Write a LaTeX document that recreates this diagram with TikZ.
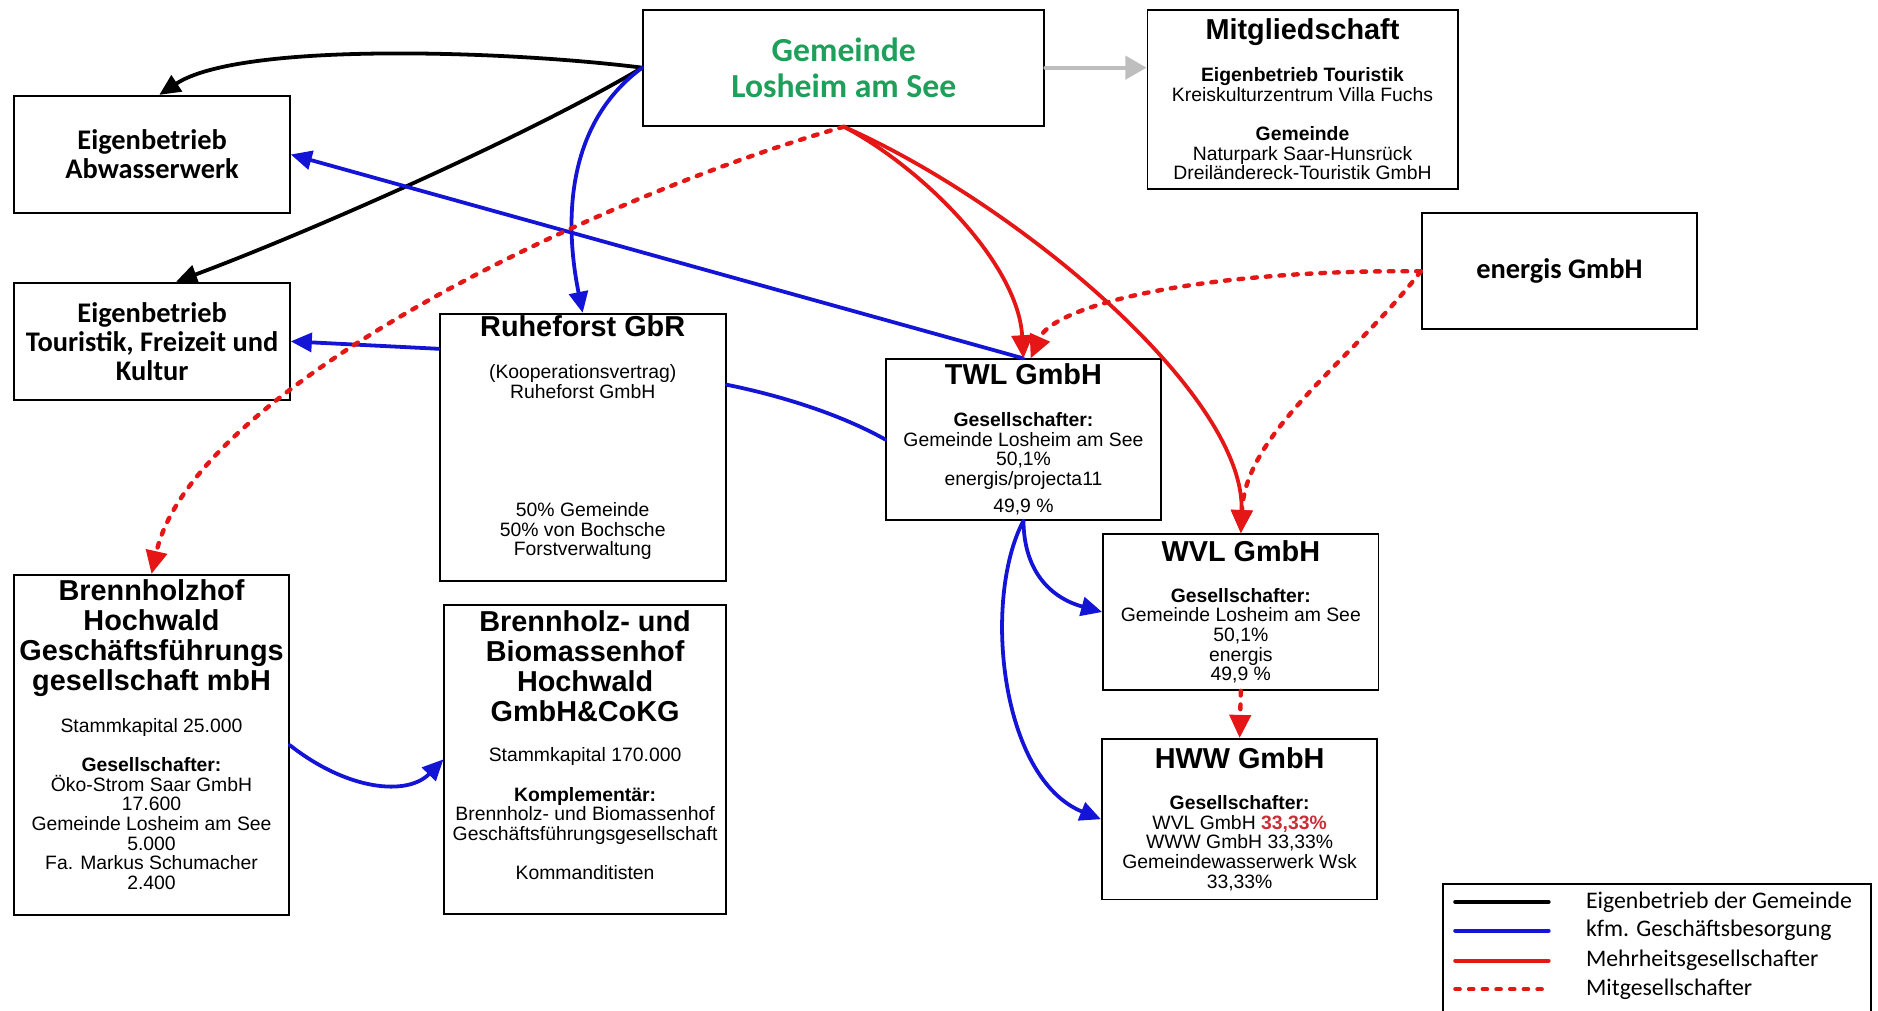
\documentclass[tikz,border=0pt]{standalone}
\usepackage{fontspec}
\setmainfont{Liberation Sans}
\newfontfamily\calibri{Carlito}
\usepackage{tikz}
\usepackage{xcolor}
\usetikzlibrary{arrows.meta}

\definecolor{gemgreen}{RGB}{30,160,90}
\definecolor{kfmblue}{RGB}{20,20,215}
\definecolor{mehrred}{RGB}{228,22,22}
\definecolor{hwwred}{RGB}{205,45,55}
\definecolor{mitgray}{RGB}{190,190,190}

\newcommand{\bodyfont}{\fontsize{9.2}{9.35}\selectfont\lineskiplimit=-20pt}
\newcommand{\titlefont}{\fontsize{13.7}{14.2}\selectfont\bfseries}
\newcommand{\califont}{\calibri\fontsize{13.5}{13.8}\selectfont\bfseries}
\newcommand{\gemfont}{\calibri\fontsize{16}{17}\selectfont\bfseries}
\newcommand{\legfont}{\calibri\fontsize{11.3}{13}\selectfont}

\tikzset{
    eigenline/.style={draw=black},
    kfmline/.style={draw=kfmblue},
    mehrline/.style={draw=mehrred, >={Triangle[length=11pt,width=10pt]}},
    mitline/.style={draw=mehrred, dash pattern=on 2.2pt off 4.3pt, line width=2.1pt,
        >={Triangle[length=11pt,width=10pt]}},
    grayline/.style={draw=mitgray, >={Triangle[length=10pt,width=11pt]}}
}

\begin{document}
\begin{tikzpicture}[x=0.02cm, y=-0.02cm]
    \useasboundingbox (0,0) rectangle (1568,844);

    \begin{scope}[every node/.style = {draw, line width=0.9pt, fill=white, align=center,
            inner xsep=1pt, inner ysep=2pt, font=\bodyfont}]
        \node[minimum width=6.7cm, minimum height=1.94cm, font=\gemfont, text=gemgreen] (Gem) at (704.5,56.5)
            {Gemeinde\\Losheim am See};
        \node[minimum width=5.18cm, minimum height=3cm] (Mit) at (1087.5,83)
            {{\titlefont Mitgliedschaft}\\[10.5pt]\textbf{Eigenbetrieb Touristik}\\Kreiskulturzentrum Villa Fuchs\\[9.3pt]
             \textbf{Gemeinde}\\Naturpark Saar-Hunsrück\\Dreiländereck-Touristik GmbH};
        \node[minimum width=4.6cm, minimum height=1.96cm, font=\califont] (Abw) at (127,129)
            {Eigenbetrieb\\Abwasserwerk};
        \node[minimum width=4.6cm, minimum height=1.96cm, font=\califont] (Tou) at (127,285)
            {Eigenbetrieb\\Touristik, Freizeit und\\Kultur};
        \node[minimum width=4.6cm, minimum height=1.94cm, font=\califont] (Ene) at (1302,226.5)
            {energis GmbH};
        \node[minimum width=4.78cm, minimum height=4.46cm, inner ysep=-3pt] (Ruh) at (486.5,373.5)
            {{\titlefont Ruheforst GbR}\\[10.5pt](Kooperationsvertrag)\\Ruheforst GmbH\\[46.8pt]
             50\% Gemeinde\\50\% von Bochsche\\Forstverwaltung\\[1.6pt]};
        \node[minimum width=4.58cm, minimum height=2.68cm] (TWL) at (854.5,367)
            {{\titlefont TWL GmbH}\\[10.5pt]\textbf{Gesellschafter:}\\Gemeinde Losheim am See\\50,1\%\\
             energis/projecta11\\[3.7pt]49,9 \%};
        \node[minimum width=4.6cm, minimum height=2.6cm] (WVL) at (1036,511)
            {{\titlefont WVL GmbH}\\[10pt]\textbf{Gesellschafter:}\\Gemeinde Losheim am See\\50,1\%\\energis\\49,9 \%};
        \node[minimum width=4.6cm, minimum height=2.68cm] (HWW) at (1035,684)
            {{\titlefont HWW GmbH}\\[10pt]\textbf{Gesellschafter:}\\WVL GmbH \textcolor{hwwred}{\textbf{33,33\%}}\\
             WWW GmbH 33,33\%\\Gemeindewasserwerk Wsk\\33,33\%};
        \node[minimum width=4.58cm, minimum height=5.68cm, inner ysep=-2pt] (BHG) at (126.5,622)
            {{\titlefont Brennholzhof}\\[4.85pt]{\titlefont Hochwald}\\[4.85pt]{\titlefont Geschäftsführungs}\\[4.85pt]
             {\titlefont gesellschaft mbH}\\[10.5pt]Stammkapital 25.000\\[9.35pt]\textbf{Gesellschafter:}\\
             Öko-Strom Saar GmbH\\17.600\\Gemeinde Losheim am See\\5.000\\Fa. Markus Schumacher\\2.400\\[0.5pt]};
        \node[minimum width=4.7cm, minimum height=5.16cm] (BBH) at (488.5,634)
            {{\titlefont Brennholz- und}\\[4.85pt]{\titlefont Biomassenhof}\\[4.85pt]{\titlefont Hochwald}\\[4.85pt]
             {\titlefont GmbH\&CoKG}\\[10pt]Stammkapital 170.000\\[9.35pt]\textbf{Komplementär:}\\
             Brennholz- und Biomassenhof\\Geschäftsführungsgesellschaft\\[9.35pt]Kommanditisten\\[4pt]};
    \end{scope}

    \begin{scope}[>={Triangle[length=10pt,width=9pt]}, line width=1.8pt, line cap=round]
        % Eigenbetriebe
        \draw[eigenline, ->] (Gem.west) .. controls (420,42) and (200,35) .. ([xshift=0.12cm]Abw.north);
        \draw[eigenline, ->] (Gem.west) .. controls (436,116) and (250,197) .. ([xshift=0.4cm]Tou.north);
        % kfm. Geschaeftsbesorgung
        \draw[kfmline, ->] (Gem.west) .. controls (470,105) and (472,190) .. (Ruh.north);
        \draw[kfmline, ->] (TWL.north) -- (Abw.east);
        \draw[kfmline, ->] ([yshift=-0.6cm]Ruh.north west) -- (Tou.east);
        \draw[kfmline] ([yshift=-1.2cm]Ruh.north east) .. controls (650,330) and (700,345) .. (TWL.west);
        \draw[kfmline, ->] (TWL.south) .. controls (855,480) and (880,500) .. (WVL.west);
        \draw[kfmline, ->] (TWL.south) .. controls (820,500) and (835,650) .. (HWW.west);
        \draw[kfmline, ->] (BHG.east) .. controls (290,660) and (340,665) .. (BBH.west);
        % Gesellschafter
        \draw[mehrline, ->] (Gem.south) .. controls (770,140) and (850,220) .. (TWL.north);
        \draw[mehrline, ->] (Gem.south) .. controls (850,170) and (1040,330) .. (WVL.north);
        \draw[mitline, ->] (Gem.south) .. controls (480,170) and (160,330) .. (BHG.north);
        \draw[mitline, ->] (Ene.west) .. controls (1000,225) and (880,255) .. ([xshift=0.12cm]TWL.north);
        \draw[mitline, ->] (Ene.west) .. controls (1130,300) and (1040,360) .. (WVL.north);
        \draw[mitline, ->] (WVL.south) -- (HWW.north);
        % Mitgliedschaft
        \draw[grayline, ->] (Gem.east) -- (Mit.west |- Gem.east);
    \end{scope}

    % Legende
    \draw[line width=0.9pt] (1205,738) rectangle (1562,850);
    \foreach \y/\st/\txt [count=\i] in {753/eigenline/Eigenbetrieb der Gemeinde,
            777/kfmline/kfm. Geschäftsbesorgung,
            802/mehrline/Mehrheitsgesellschafter,
            826/mitline/Mitgesellschafter} {
        \draw[\st, line width=1.9pt, line cap=round] (1215,\y) -- (1293,\y);
        \node[anchor=west, font=\legfont] (leg\i) at (1318,\y) {\txt};
    }
\end{tikzpicture}
\end{document}
